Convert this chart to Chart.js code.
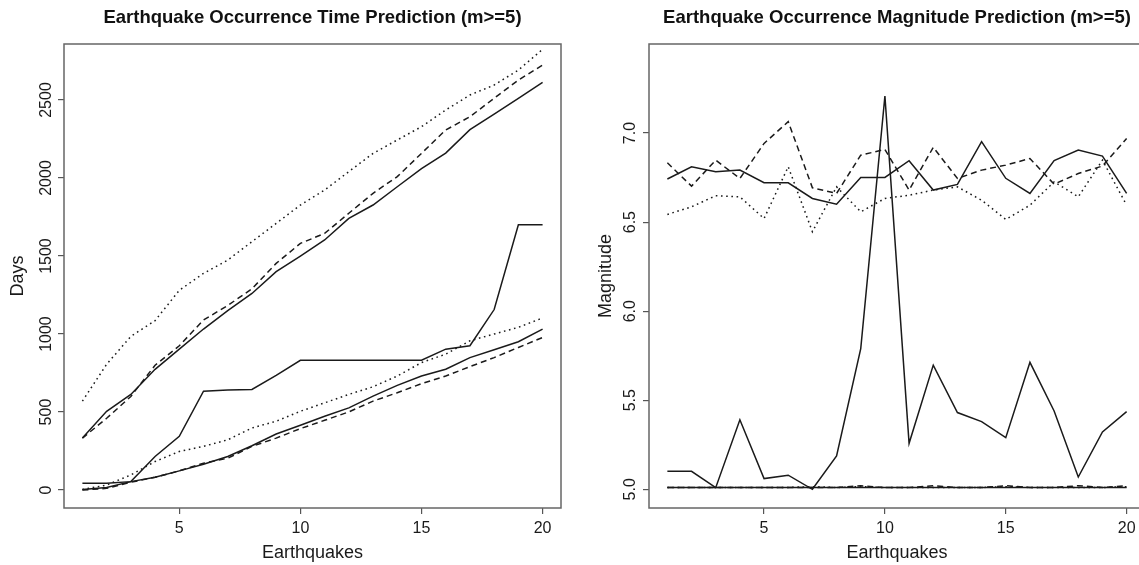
<!DOCTYPE html>
<html>
<head>
<meta charset="utf-8">
<script src="https://cdn.jsdelivr.net/npm/chart.js@4.4.1/dist/chart.umd.min.js"></script>
<style>
  html, body { margin: 0; padding: 0; background: #fff; overflow: hidden; }
  #wrap { position: relative; width: 1139px; height: 565px; overflow: hidden; }
  #timeChart { position: absolute; left: 0; top: 0; }
  #magChart { position: absolute; left: 570px; top: 0; }
</style>
</head>
<body>
<div id="wrap">
  <canvas id="timeChart" width="570" height="565"></canvas>
  <canvas id="magChart" width="600" height="565"></canvas>
</div>
<script>
// earthquake index (x axis)
const quakes = [1, 2, 3, 4, 5, 6, 7, 8, 9, 10, 11, 12, 13, 14, 15, 16, 17, 18, 19, 20];
const xTicks = [5, 10, 15, 20];

// left panel: days
const timeUpperDotted = [570, 806, 985, 1086, 1280, 1389, 1474, 1592, 1709, 1827, 1923, 2041, 2158, 2244, 2329, 2436, 2532, 2596, 2692, 2825];
const timeUpperDashed = [333, 460, 600, 800, 925, 1090, 1183, 1290, 1453, 1581, 1645, 1774, 1902, 2009, 2158, 2308, 2393, 2511, 2628, 2724];
const timeUpperSolid = [333, 505, 613, 774, 903, 1032, 1150, 1260, 1400, 1500, 1603, 1741, 1827, 1944, 2060, 2160, 2310, 2410, 2511, 2613];
const timeObserved = [43, 43, 54, 215, 344, 634, 641, 645, 735, 832, 832, 832, 832, 832, 832, 903, 925, 1157, 1700, 1700];
const timeLowerDotted = [4, 32, 97, 183, 247, 280, 322, 398, 441, 505, 559, 613, 662, 731, 817, 871, 957, 1000, 1043, 1103];
const timeLowerSolid = [4, 17, 54, 82, 123, 166, 215, 284, 359, 415, 473, 527, 602, 671, 731, 774, 849, 899, 951, 1032];
const timeLowerDashed = [0, 11, 50, 82, 123, 172, 204, 280, 333, 394, 447, 501, 570, 624, 682, 731, 791, 849, 914, 978];
const timeTicks = [0, 500, 1000, 1500, 2000, 2500];

// right panel: magnitude
const magUpperSolid = [6.742, 6.811, 6.783, 6.792, 6.721, 6.721, 6.633, 6.601, 6.751, 6.751, 6.845, 6.680, 6.712, 6.952, 6.746, 6.661, 6.845, 6.905, 6.871, 6.661];
const magUpperDashed = [6.833, 6.702, 6.848, 6.745, 6.942, 7.064, 6.693, 6.661, 6.876, 6.908, 6.680, 6.920, 6.745, 6.792, 6.820, 6.857, 6.713, 6.773, 6.815, 6.970];
const magUpperDotted = [6.543, 6.586, 6.648, 6.642, 6.520, 6.811, 6.446, 6.698, 6.558, 6.633, 6.651, 6.680, 6.698, 6.623, 6.515, 6.595, 6.726, 6.642, 6.848, 6.595];
const magObserved = [5.101, 5.101, 5.009, 5.390, 5.060, 5.079, 5.000, 5.187, 5.790, 7.208, 5.258, 5.697, 5.431, 5.380, 5.290, 5.713, 5.440, 5.069, 5.322, 5.436];
const magLowerSolid = [5.01, 5.01, 5.01, 5.01, 5.01, 5.01, 5.01, 5.01, 5.01, 5.01, 5.01, 5.01, 5.01, 5.01, 5.01, 5.01, 5.01, 5.01, 5.01, 5.01];
const magLowerDashed = [5.01, 5.01, 5.01, 5.01, 5.01, 5.01, 5.01, 5.01, 5.02, 5.01, 5.01, 5.02, 5.01, 5.01, 5.02, 5.01, 5.01, 5.02, 5.01, 5.02];
const magLowerDotted = [5.01, 5.01, 5.01, 5.01, 5.01, 5.01, 5.015, 5.01, 5.015, 5.01, 5.01, 5.01, 5.01, 5.01, 5.015, 5.01, 5.01, 5.01, 5.01, 5.015];
const magTicks = [5.0, 5.5, 6.0, 6.5, 7.0];

const FONT = "'Liberation Sans', Arial, Helvetica, sans-serif";
const INK = '#1a1a1a';
const SOLID = [];
const DASHED = [6, 4];
const DOTTED = [1.6, 3.6];

Chart.defaults.font.family = FONT;
Chart.defaults.color = INK;

function makeLine(values, dash) {
    return {
        data: quakes.map((q, i) => ({ x: q, y: values[i] })),
        borderColor: INK,
        borderWidth: 1.5,
        borderDash: dash,
        pointRadius: 0,
        tension: 0,
        fill: false
    };
}

// R style box around the plot region
const boxPlugin = {
    id: 'box',
    afterDraw(chart) {
        const a = chart.chartArea;
        const ctx = chart.ctx;
        ctx.save();
        ctx.strokeStyle = '#666';
        ctx.lineWidth = 1.5;
        ctx.strokeRect(a.left, a.top, a.right - a.left, a.bottom - a.top);
        ctx.restore();
    }
};

function buildChart(canvasId, cfg) {
    const ctx = document.getElementById(canvasId).getContext('2d');
    return new Chart(ctx, {
        type: 'line',
        data: { datasets: cfg.datasets },
        options: {
            responsive: false,
            animation: false,
            devicePixelRatio: 1,
            layout: { padding: { left: 0, right: cfg.padRight, top: 0, bottom: 0 } },
            plugins: {
                legend: { display: false },
                tooltip: { enabled: false },
                title: {
                    display: true,
                    text: cfg.title,
                    fullSize: false,
                    color: '#111',
                    font: { size: 18.5, weight: 'bold' },
                    padding: { top: 7, bottom: 14.8 }
                }
            },
            scales: {
                x: {
                    type: 'linear',
                    min: 0.24,
                    max: 20.76,
                    afterBuildTicks: s => { s.ticks = xTicks.map(v => ({ value: v })); },
                    afterFit: s => { s.height = 57; },
                    grid: { drawOnChartArea: false, drawTicks: true, tickLength: 6, color: '#555', lineWidth: 1.2 },
                    border: { display: false },
                    ticks: { font: { size: 16 }, padding: 5, maxRotation: 0, color: INK },
                    title: { display: true, text: 'Earthquakes', font: { size: 18 }, color: INK, padding: { top: 0, bottom: 1 } }
                },
                y: {
                    type: 'linear',
                    min: cfg.yMin,
                    max: cfg.yMax,
                    afterBuildTicks: s => { s.ticks = cfg.yTicks.map(v => ({ value: v })); },
                    afterFit: s => { s.width = cfg.yWidth; },
                    grid: { drawOnChartArea: false, drawTicks: true, tickLength: 6, color: '#555', lineWidth: 1.2 },
                    border: { display: false },
                    ticks: {
                        font: { size: 16 },
                        minRotation: 90,
                        maxRotation: 90,
                        crossAlign: 'center',
                        padding: cfg.yTickPad,
                        color: INK,
                        callback: cfg.yFormat
                    },
                    title: { display: true, text: cfg.yTitle, font: { size: 18 }, color: INK, padding: { top: cfg.yTitlePad, bottom: 0 } }
                }
            }
        },
        plugins: [boxPlugin]
    });
}

buildChart('timeChart', {
    title: 'Earthquake Occurrence Time Prediction (m>=5)',
    yTitle: 'Days',
    yMin: -115,
    yMax: 2859,
    yTicks: timeTicks,
    yWidth: 64,
    yTickPad: -6,
    yTitlePad: 7,
    padRight: 9,
    yFormat: v => String(v),
    datasets: [
        makeLine(timeUpperDotted, DOTTED),
        makeLine(timeUpperDashed, DASHED),
        makeLine(timeUpperSolid, SOLID),
        makeLine(timeObserved, SOLID),
        makeLine(timeLowerDotted, DOTTED),
        makeLine(timeLowerSolid, SOLID),
        makeLine(timeLowerDashed, DASHED)
    ]
});

buildChart('magChart', {
    title: 'Earthquake Occurrence Magnitude Prediction (m>=5)',
    yTitle: 'Magnitude',
    yMin: 4.895,
    yMax: 7.5,
    yTicks: magTicks,
    yWidth: 79,
    yTickPad: 1,
    yTitlePad: 25,
    padRight: 25,
    yFormat: v => Number(v).toFixed(1),
    datasets: [
        makeLine(magUpperSolid, SOLID),
        makeLine(magUpperDashed, DASHED),
        makeLine(magUpperDotted, DOTTED),
        makeLine(magObserved, SOLID),
        makeLine(magLowerSolid, SOLID),
        makeLine(magLowerDashed, DASHED),
        makeLine(magLowerDotted, DOTTED)
    ]
});
</script>
</body>
</html>
